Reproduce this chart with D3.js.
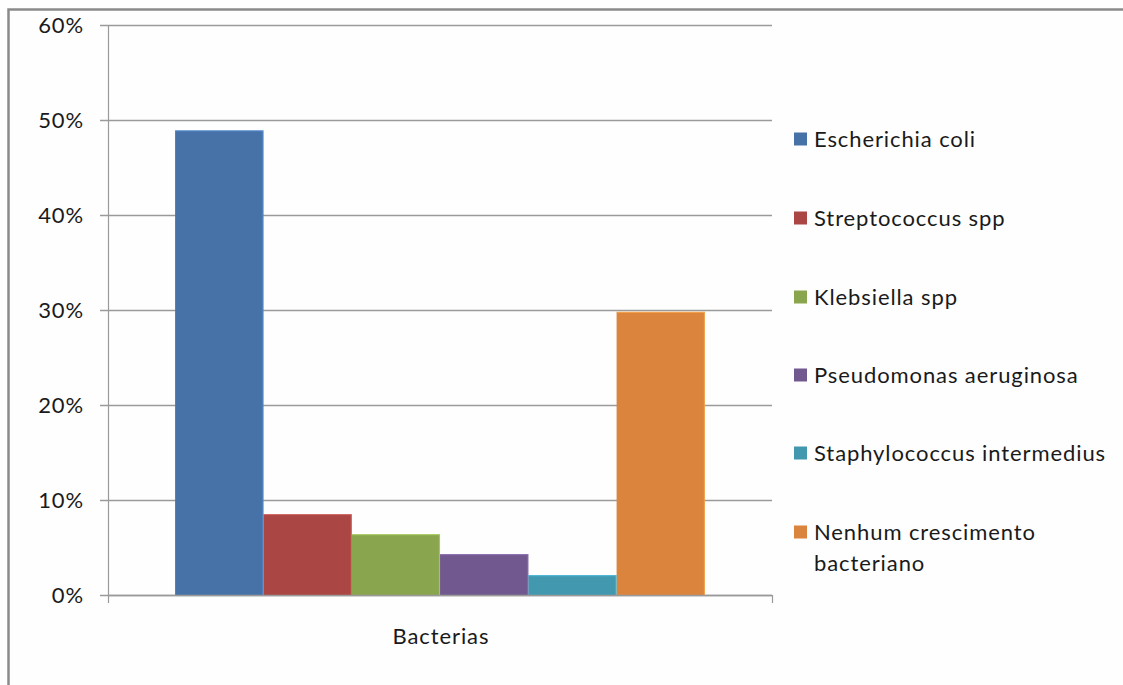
<!DOCTYPE html>
<html>
<head>
<meta charset="utf-8">
<script src="https://cdn.jsdelivr.net/npm/d3@7"></script>
<style>
  html, body { margin: 0; padding: 0; background: #fefefe; }
  svg { display: block; }
  text { font-family: Lato, "Open Sans", sans-serif; fill: #1a1a1a; letter-spacing: 0.9px; }
</style>
</head>
<body>
<svg id="chart" width="1123" height="685"></svg>
<script>
// Share of isolates per bacterial group (%)
const category = "Bacterias";
const seriesNames = [
  "Escherichia coli",
  "Streptococcus spp",
  "Klebsiella spp",
  "Pseudomonas aeruginosa",
  "Staphylococcus intermedius",
  "Nenhum crescimento bacteriano"
];
const seriesValues = [48.9, 8.5, 6.4, 4.3, 2.1, 29.8];
const seriesColors = ["#4672a8", "#aa4643", "#89a54e", "#71588f", "#4198af", "#db843d"];
const yTicks = [0, 10, 20, 30, 40, 50, 60];

const svg = d3.select("#chart");

// outer chart frame
svg.append("rect")
  .attr("x", 8.5).attr("y", 9.5)
  .attr("width", 1200).attr("height", 800)
  .attr("fill", "#fefefe")
  .attr("stroke", "#8a8a8a").attr("stroke-width", 2.5);

const plot = { left: 108, right: 772, top: 25, bottom: 595 };

const y = d3.scaleLinear().domain([0, 60]).range([plot.bottom, plot.top]);
const x0 = d3.scaleBand().domain([category]).range([plot.left, plot.right]).padding(0);
const x1 = d3.scaleBand().domain(seriesNames).range([0, x0.bandwidth()]).paddingInner(0).paddingOuter(0.76);

// gridlines + y axis
const yAxis = d3.axisLeft(y)
  .tickValues(yTicks)
  .tickFormat(d => d + "%")
  .tickSize(-(plot.right - plot.left))
  .tickPadding(24);

const gy = svg.append("g").attr("transform", `translate(${plot.left},0)`).call(yAxis);
gy.select(".domain").remove();
gy.selectAll(".tick line")
  .attr("x1", -8)
  .attr("stroke", "#9a9a9a").attr("stroke-width", 1.6);
gy.selectAll(".tick text")
  .attr("font-size", 22).attr("fill", "#1a1a1a")
  .style("font-family", "Lato, sans-serif");

svg.append("line")
  .attr("x1", plot.left + 0.5).attr("x2", plot.left + 0.5)
  .attr("y1", plot.top).attr("y2", plot.bottom)
  .attr("stroke", "#9a9a9a").attr("stroke-width", 1.2);

// bars
const barData = seriesNames.map((n, i) => ({ name: n, value: seriesValues[i], color: seriesColors[i] }));
const g = svg.append("g").attr("transform", `translate(${x0(category)},0)`);
g.selectAll("rect.bar")
  .data(barData)
  .join("rect")
  .attr("class", "bar")
  .attr("x", d => x1(d.name))
  .attr("width", x1.bandwidth())
  .attr("y", d => y(d.value))
  .attr("height", d => y(0) - y(d.value))
  .attr("fill", d => d.color);

// bar highlights along top and right edge
g.selectAll("path.edge")
  .data(barData)
  .join("path")
  .attr("class", "edge")
  .attr("d", d => {
    const xa = x1(d.name), xb = xa + x1.bandwidth() - 0.5, yt = y(d.value) + 0.5;
    return `M${xa},${yt}H${xb}V${y(0)}`;
  })
  .attr("fill", "none")
  .attr("stroke", d => d3.color(d.color).brighter(0.8))
  .attr("stroke-opacity", 0.6)
  .attr("stroke-width", 1.2);

// x axis baseline and end ticks
svg.append("line")
  .attr("x1", plot.left).attr("x2", plot.right)
  .attr("y1", plot.bottom + 0.5).attr("y2", plot.bottom + 0.5)
  .attr("stroke", "#9a9a9a").attr("stroke-width", 1.6);
[plot.left, plot.right].forEach(xx => {
  svg.append("line")
    .attr("x1", xx + 0.5).attr("x2", xx + 0.5)
    .attr("y1", plot.bottom).attr("y2", plot.bottom + 8)
    .attr("stroke", "#9a9a9a").attr("stroke-width", 1.2);
});

svg.append("text")
  .attr("x", x0(category) + x0.bandwidth() / 2 + 1)
  .attr("y", 644)
  .attr("text-anchor", "middle")
  .attr("font-size", 22)
  .text(category);

// legend
const legend = svg.append("g").attr("transform", "translate(794,0)");
const legendRowY = [139, 218, 297, 375, 453, 532];
seriesNames.forEach((name, i) => {
  const row = legend.append("g").attr("transform", `translate(0,${legendRowY[i]})`);
  row.append("rect")
    .attr("x", 0).attr("y", -6.5)
    .attr("width", 13).attr("height", 13)
    .attr("fill", seriesColors[i]);
  const lines = i === 5 ? ["Nenhum crescimento", "bacteriano"] : [name];
  lines.forEach((ln, j) => {
    row.append("text")
      .attr("x", 20)
      .attr("y", j * 31)
      .attr("dy", "0.36em")
      .attr("font-size", 22)
      .text(ln);
  });
});
</script>
</body>
</html>
